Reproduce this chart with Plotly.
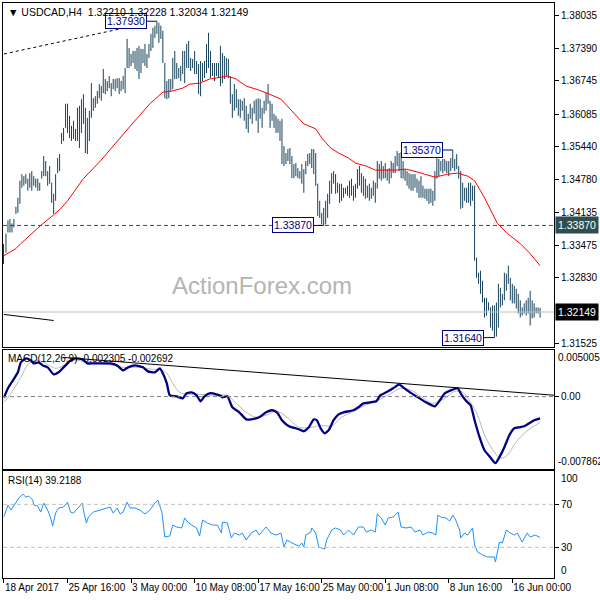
import plotly.graph_objects as go

# ---------------- data ----------------
highs = [
 1.3351,1.3371,1.3397,1.3400,1.3391,1.3400,1.3424,1.3442,1.3476,1.3489,
 1.3485,1.3489,1.3480,1.3491,1.3495,1.3485,1.3480,1.3480,1.3472,1.3495,
 1.3525,1.3515,1.3495,1.3505,1.3472,1.3450,1.3489,1.3521,1.3529,1.3571,
 1.3581,1.3629,1.3629,1.3605,1.3585,1.3595,1.3579,1.3621,1.3625,1.3638,
 1.3648,1.3621,1.3601,1.3615,1.3670,1.3640,1.3644,1.3654,1.3668,1.3664,
 1.3698,1.3678,1.3674,1.3684,1.3670,1.3678,1.3678,1.3680,1.3680,1.3674,
 1.3684,1.3700,1.3758,1.3740,1.3728,1.3734,1.3734,1.3740,1.3744,1.3738,
 1.3738,1.3748,1.3728,1.3748,1.3768,1.3780,1.3784,1.3793,1.3790,1.3784,
 1.3774,1.3710,1.3674,1.3678,1.3678,1.3720,1.3734,1.3710,1.3700,1.3704,
 1.3734,1.3734,1.3748,1.3754,1.3720,1.3718,1.3734,1.3714,1.3708,1.3714,
 1.3710,1.3714,1.3748,1.3770,1.3734,1.3710,1.3710,1.3710,1.3710,1.3744,
 1.3730,1.3724,1.3720,1.3718,1.3684,1.3648,1.3668,1.3658,1.3638,1.3638,
 1.3635,1.3640,1.3625,1.3609,1.3629,1.3621,1.3635,1.3638,1.3640,1.3638,
 1.3621,1.3635,1.3650,1.3668,1.3635,1.3629,1.3609,1.3605,1.3599,1.3595,
 1.3599,1.3545,1.3531,1.3539,1.3541,1.3525,1.3509,1.3511,1.3501,1.3495,
 1.3509,1.3499,1.3515,1.3529,1.3531,1.3539,1.3539,1.3531,1.3470,1.3436,
 1.3412,1.3422,1.3436,1.3450,1.3476,1.3491,1.3495,1.3489,1.3472,1.3470,
 1.3470,1.3462,1.3462,1.3466,1.3476,1.3480,1.3466,1.3470,1.3499,1.3505,
 1.3491,1.3485,1.3480,1.3466,1.3470,1.3462,1.3476,1.3472,1.3515,1.3509,
 1.3515,1.3505,1.3511,1.3499,1.3501,1.3515,1.3511,1.3525,1.3535,1.3531,
 1.3533,1.3515,1.3499,1.3495,1.3491,1.3489,1.3489,1.3489,1.3480,1.3476,
 1.3485,1.3466,1.3460,1.3460,1.3460,1.3460,1.3456,1.3495,1.3521,1.3519,
 1.3515,1.3519,1.3519,1.3515,1.3515,1.3521,1.3537,1.3519,1.3529,1.3505,
 1.3495,1.3472,1.3462,1.3462,1.3472,1.3472,1.3466,1.3466,1.3323,1.3293,
 1.3297,1.3277,1.3243,1.3243,1.3234,1.3224,1.3228,1.3228,1.3234,1.3271,
 1.3263,1.3251,1.3293,1.3291,1.3307,1.3283,1.3271,1.3267,1.3261,1.3251,
 1.3238,1.3224,1.3232,1.3238,1.3243,1.3257,1.3238,1.3232,1.3224,1.3224,
 1.32228]

lows = [
 1.3311,1.3333,1.3373,1.3373,1.3373,1.3383,1.3410,1.3412,1.3430,1.3462,
 1.3466,1.3470,1.3456,1.3462,1.3456,1.3466,1.3462,1.3456,1.3456,1.3480,
 1.3485,1.3485,1.3466,1.3470,1.3432,1.3410,1.3436,1.3491,1.3495,1.3549,
 1.3555,1.3581,1.3571,1.3561,1.3555,1.3559,1.3555,1.3555,1.3541,1.3571,
 1.3589,1.3531,1.3529,1.3555,1.3601,1.3615,1.3621,1.3629,1.3640,1.3635,
 1.3650,1.3648,1.3654,1.3660,1.3644,1.3658,1.3654,1.3660,1.3648,1.3654,
 1.3658,1.3650,1.3700,1.3700,1.3704,1.3710,1.3698,1.3694,1.3678,1.3690,
 1.3710,1.3704,1.3700,1.3720,1.3734,1.3740,1.3760,1.3768,1.3750,1.3758,
 1.3710,1.3640,1.3638,1.3640,1.3654,1.3658,1.3678,1.3678,1.3680,1.3674,
 1.3688,1.3670,1.3700,1.3700,1.3694,1.3700,1.3688,1.3688,1.3648,1.3644,
 1.3674,1.3680,1.3690,1.3700,1.3680,1.3684,1.3674,1.3684,1.3680,1.3664,
 1.3670,1.3678,1.3684,1.3680,1.3629,1.3601,1.3615,1.3621,1.3605,1.3601,
 1.3615,1.3595,1.3579,1.3571,1.3599,1.3589,1.3609,1.3595,1.3571,1.3599,
 1.3581,1.3609,1.3615,1.3629,1.3581,1.3595,1.3581,1.3571,1.3571,1.3555,
 1.3509,1.3505,1.3509,1.3515,1.3509,1.3481,1.3481,1.3485,1.3481,1.3480,
 1.3470,1.3452,1.3489,1.3505,1.3509,1.3501,1.3489,1.3466,1.3406,1.3402,
 1.3389,1.3387,1.3389,1.3402,1.3430,1.3450,1.3470,1.3450,1.3452,1.3432,
 1.3436,1.3442,1.3450,1.3446,1.3442,1.3446,1.3436,1.3442,1.3460,1.3466,
 1.3452,1.3446,1.3440,1.3442,1.3436,1.3440,1.3446,1.3432,1.3460,1.3480,
 1.3476,1.3480,1.3481,1.3476,1.3470,1.3481,1.3491,1.3491,1.3505,1.3495,
 1.3481,1.3480,1.3476,1.3466,1.3460,1.3456,1.3456,1.3462,1.3452,1.3442,
 1.3442,1.3442,1.3440,1.3436,1.3430,1.3432,1.3426,1.3436,1.3480,1.3485,
 1.3495,1.3491,1.3495,1.3491,1.3485,1.3495,1.3501,1.3495,1.3499,1.3480,
 1.3420,1.3422,1.3436,1.3432,1.3432,1.3426,1.3436,1.3317,1.3283,1.3271,
 1.3251,1.3234,1.3204,1.3208,1.3218,1.3184,1.3178,1.3164,1.3166,1.3184,
 1.3224,1.3228,1.3238,1.3257,1.3271,1.3238,1.3232,1.3232,1.3222,1.3212,
 1.3204,1.3208,1.3212,1.3208,1.3212,1.3188,1.3202,1.3204,1.3212,1.3212,
 1.32034]

last_close = 1.32149
ohlc_text = "1.32210 1.32228 1.32034 1.32149"

ma_idx = [0,6,8.5,18.5,25,28.5,32,40,48.5,57,65,73.5,80,84.5,90,93.5,98.5,103.5,112.5,117,
          122,127,132.5,139.5,145,151,157,160,164.5,168.5,173.5,177,182.5,187,197,202.5,208.5,217,223.5,228.5,
          233.5,237,242,248.5,253.5,260,265,270]
ma_val = [1.3327,1.3341,1.3351,1.3387,1.3408,1.3420,1.3436,1.3480,1.3515,1.3555,
          1.3591,1.3629,1.3652,1.3654,1.3660,1.3668,1.3670,1.3678,1.3684,1.3678,
          1.3664,1.3658,1.3650,1.3638,1.3615,1.3589,1.3579,1.3561,1.3541,1.3531,
          1.3521,1.3511,1.3505,1.3497,1.3497,1.3499,1.3493,1.3483,1.3489,1.3491,
          1.3485,1.3476,1.3442,1.3391,1.3371,1.3351,1.3331,1.3307]

macd_idx = [0,2,4.5,7,8.5,11,13.5,15,17.5,19.5,22,25,27.5,29.5,31,33.5,36,39.5,42,45,
            48.5,53.5,57,60,62.5,66,70,72.5,76,78.5,80,82,83.5,87,90,92,94.5,97,99,101,
            103.5,107,109.5,110,112.5,115,118.5,122,124.5,128.5,132,135,137.5,140,143.5,147,148.5,151,153.5,156,
            157.5,159.5,161.5,163.5,166,168.5,171,173.5,176,178.5,181,184.5,187.5,189.5,192.5,196,199,201,204.5,208.5,
            212.5,217,219.5,222,225,228.5,230,232.5,235,237,239.5,242,244.5,247.5,249.5,252,254.5,257,259.5,262,
            264.5,267,270]
macd_val = [-0.0001,0.0009,0.00176,0.00263,0.00371,0.00414,0.00392,0.00360,0.00371,0.00338,
            0.00317,0.00241,0.00263,0.00306,0.00338,0.00392,0.00414,0.00403,0.00360,0.00360,
            0.00360,0.00360,0.00338,0.00284,0.00317,0.00338,0.00317,0.00273,0.00263,0.00306,
            0.00252,0.00144,0.00014,0.00003,-0.00019,0.00036,0.00046,0.00014,-0.00051,0.00003,
            0.00036,0.00025,0.00003,-0.00008,0.00003,-0.00116,-0.00170,-0.00246,-0.00246,-0.00224,
            -0.00170,-0.00148,-0.00170,-0.00256,-0.00321,-0.00343,-0.00354,-0.00375,-0.00332,-0.00246,
            -0.00256,-0.00343,-0.00397,-0.00365,-0.00256,-0.00192,-0.00170,-0.00159,-0.00148,-0.00116,
            -0.00073,-0.00062,-0.00051,0.00014,0.00046,0.00090,0.00133,0.00100,0.00046,-0.00008,
            -0.00062,-0.00105,-0.00040,0.00036,0.00068,0.00090,0.00036,-0.00040,-0.00094,-0.00256,
            -0.00440,-0.00581,-0.00646,-0.00721,-0.00656,-0.00548,-0.00419,-0.00343,-0.00332,-0.00321,
            -0.00289,-0.00256,-0.00235]

signal_idx = [0,3.5,8.5,12.5,17,22,26,30,34.5,40,48.5,55,60,68.5,75,78.5,82,85,88.5,93.5,
              98.5,105,112,117,122,127,132,137,142,148.5,155,160,165,170,175,182,188.5,195,200,205,
              210,216,222,227,231,235,238.5,242.5,247,250,253.5,257.5,262,266,270]
signal_val = [-0.00062,0.00036,0.00209,0.00360,0.00392,0.00349,0.00306,0.00338,0.00392,0.00382,
              0.00360,0.00338,0.00317,0.00317,0.00295,0.00295,0.00252,0.00144,0.00046,0.00025,
              0.00025,0.00014,0.00014,-0.00073,-0.00170,-0.00224,-0.00202,-0.00159,-0.00213,-0.00332,
              -0.00332,-0.00310,-0.00321,-0.00224,-0.00170,-0.00094,-0.00040,0.00036,0.00090,0.00068,
              0.00003,-0.00073,-0.00019,0.00057,0.00046,-0.00062,-0.00202,-0.00440,-0.00602,-0.00667,
              -0.00635,-0.00505,-0.00397,-0.00332,-0.00278]

rsi_idx = [0,2,3.5,5,7.5,9.5,11,12.5,14.5,15,17,18.5,20,22,23.5,24.5,26,27.5,30,32,
           33.5,35,37.5,39.5,40,41.5,42.5,45,48.5,52,53.5,55,57,58.5,60,62,63.5,66,68.5,71,
           73.5,76,77.5,79.5,81,83.5,85,87,89.5,91,92.5,94.5,97,98.5,100,102.5,105,107.5,109.5,110,
           112.5,114.5,116,118.5,120,122,124.5,127,128.5,132,134.5,137,139.5,141,142.5,145,147.5,
           148.5,150,151,152,154.5,155,157,158.5,160,161.5,162.5,165,167,169.5,171,173.5,176,178.5,181,182.5,
           185,187,188,190,192,193.5,196,198.5,200,202.5,205,207,209.5,211,213.5,216,217.5,218.5,220,222.5,
           224.5,226,227.5,229.5,230,232,233.5,236,237,238.5,241,243.5,247,247.5,249.5,251,253,255,257,258.5,
           261,263.5,265,267.5,270]
rsi_val = [58.5,69.3,64.7,69.3,75.9,79.6,76.7,77.7,74.0,69.3,68.4,62.8,71.2,64.7,57.3,49.8,61.9,66.6,67.5,72.1,
           62.8,61.9,66.6,71.2,64.7,52.6,58.2,62.8,64.7,66.6,67.5,61.9,66.6,61.0,62.8,72.1,66.6,66.6,64.7,61.0,
           64.7,71.2,74.0,62.8,39.6,40.5,50.7,48.9,48.0,57.3,53.5,50.7,48.0,40.5,55.4,52.6,50.7,50.7,43.3,53.5,
           52.6,38.7,43.3,41.4,43.3,36.8,43.3,46.1,41.4,48.9,43.3,41.4,43.3,30.3,36.8,34.0,32.1,
           31.2,34.0,30.3,41.4,44.2,48.0,43.3,30.3,29.3,28.4,36.8,46.1,48.0,46.1,41.4,46.1,41.4,48.9,48.9,44.2,
           46.1,44.2,61.0,57.3,50.7,57.3,58.2,62.8,48.9,48.0,48.9,44.2,46.1,41.4,44.2,43.3,41.4,60.0,58.2,57.3,
           54.5,60.0,55.4,46.1,38.7,43.3,41.4,48.0,32.1,25.6,22.8,21.0,21.0,16.3,34.9,34.0,46.1,43.3,41.4,43.3,
           34.9,43.3,39.6,41.4,39.2]

# trend lines drawn on the chart
top_trend_idx = [0, 61]
top_trend_val = [1.3728, 1.3780]
low_trend_idx = [0, 25]
low_trend_val = [1.3210, 1.3198]
macd_trend_idx = [29.5, 277.5]
macd_trend_val = [0.00425, 0.00014]
support_level = 1.33870

# swing labels: (bar index, kind)
swing_idx = [77, 161, 226, 247]
swing_kind = ["high", "low", "high", "low"]

price_ticks = [1.38035, 1.37390, 1.36745, 1.36085, 1.35440, 1.34780, 1.34135, 1.33475, 1.32830, 1.31525]
x_tick_idx = [0, 32, 64, 96, 128, 160, 192, 224, 256]
x_tick_text = ["18 Apr 2017", "25 Apr 16:00", "3 May 00:00", "10 May 08:00", "17 May 16:00",
               "25 May 00:00", "1 Jun 08:00", "8 Jun 16:00", "16 Jun 00:00"]
macd_label = "MACD(12,26,9) -0.002305 -0.002692"
rsi_label = "RSI(14) 39.2188"
macd_max, macd_min = 0.005005, -0.007862

# ---------------- figure ----------------
FONT = "Liberation Sans, Arial, sans-serif"
BAR_COLOR = "#17425a"
NAVY = "#000080"

# each price bar is a vertical high-low segment at its bar index
bar_x, bar_y = [], []
for i, (h, l) in enumerate(zip(highs, lows)):
    bar_x += [i, i, None]
    bar_y += [l, h, None]

fig = go.Figure()
fig.add_trace(go.Scatter(x=bar_x, y=bar_y, mode="lines", line=dict(color=BAR_COLOR, width=1),
                         xaxis="x", yaxis="y", showlegend=False, hoverinfo="skip"))
fig.add_trace(go.Scatter(x=ma_idx, y=ma_val, mode="lines", line=dict(color="#ff0000", width=1),
                         xaxis="x", yaxis="y", showlegend=False))
fig.add_trace(go.Scatter(x=top_trend_idx, y=top_trend_val, mode="lines",
                         line=dict(color="black", width=1, dash="3px,3px"),
                         xaxis="x", yaxis="y", showlegend=False))
fig.add_trace(go.Scatter(x=low_trend_idx, y=low_trend_val, mode="lines",
                         line=dict(color="black", width=1), xaxis="x", yaxis="y", showlegend=False))

# MACD panel
fig.add_trace(go.Scatter(x=signal_idx, y=signal_val, mode="lines", line=dict(color="#b8b8b8", width=1, shape="spline"),
                         xaxis="x2", yaxis="y2", showlegend=False))
fig.add_trace(go.Scatter(x=macd_idx, y=macd_val, mode="lines", line=dict(color=NAVY, width=2.3, shape="spline", smoothing=0.5),
                         xaxis="x2", yaxis="y2", showlegend=False))
fig.add_trace(go.Scatter(x=macd_trend_idx, y=macd_trend_val, mode="lines", line=dict(color="black", width=1),
                         xaxis="x2", yaxis="y2", showlegend=False))

# RSI panel
fig.add_trace(go.Scatter(x=rsi_idx, y=rsi_val, mode="lines", line=dict(color="#1e90ff", width=1),
                         xaxis="x3", yaxis="y3", showlegend=False))

shapes = [
    dict(type="line", xref="x domain", yref="y", x0=0, x1=1, y0=support_level, y1=support_level,
         line=dict(color="#2f4f4f", width=1, dash="4px,3px")),
    dict(type="line", xref="x domain", yref="y", x0=0, x1=1, y0=last_close, y1=last_close,
         line=dict(color="#c0c0c0", width=1)),
    dict(type="line", xref="x2 domain", yref="y2", x0=0, x1=1, y0=0, y1=0,
         line=dict(color="#808080", width=1, dash="4px,3px")),
    dict(type="line", xref="x3 domain", yref="y3", x0=0, x1=1, y0=70, y1=70,
         line=dict(color="#c0c0c0", width=1, dash="4px,3px")),
    dict(type="line", xref="x3 domain", yref="y3", x0=0, x1=1, y0=30, y1=30,
         line=dict(color="#c0c0c0", width=1, dash="4px,3px")),
]

annotations = []
for i, kind in zip(swing_idx, swing_kind):
    val = highs[i] if kind == "high" else lows[i]
    annotations.append(dict(x=i, y=val, xref="x", yref="y", text="%.5f" % val,
                            showarrow=True, arrowhead=0, arrowwidth=1, arrowcolor=NAVY,
                            ax=-31, ay=0, font=dict(family=FONT, size=10.5, color=NAVY),
                            bgcolor="white", bordercolor=NAVY, borderwidth=1, borderpad=1))
annotations.append(dict(x=1, y=support_level, xref="paper", yref="y", xanchor="left", xshift=1,
                        text="%.5f" % support_level, showarrow=False, bgcolor="#2f4f4f",
                        font=dict(family=FONT, size=10.5, color="white"), borderpad=2))
annotations.append(dict(x=1, y=last_close, xref="paper", yref="y", xanchor="left", xshift=1,
                        text="%.5f" % last_close, showarrow=False, bgcolor="black",
                        font=dict(family=FONT, size=10.5, color="white"), borderpad=2))
annotations.append(dict(x=0, y=1, xref="paper", yref="paper", xanchor="left", yanchor="top",
                        xshift=3, yshift=-1, showarrow=False,
                        text="▼ USDCAD,H4  " + ohlc_text, font=dict(family=FONT, size=10.5, color="black")))
annotations.append(dict(x=0.47, y=0.509, xref="paper", yref="paper", showarrow=False,
                        text="ActionForex.com", font=dict(family=FONT, size=24, color="#b4b4b4")))
annotations.append(dict(x=0, y=macd_max, xref="paper", yref="y2", xanchor="left", yanchor="top",
                        xshift=3, yshift=-1, showarrow=False, text=macd_label,
                        font=dict(family=FONT, size=10, color="black")))
annotations.append(dict(x=0, y=100.9, xref="paper", yref="y3", xanchor="left", yanchor="top",
                        xshift=3, yshift=-2, showarrow=False, text=rsi_label,
                        font=dict(family=FONT, size=10, color="black")))
for val, txt, anchor in [(macd_max, "%.6f" % macd_max, "top"), (macd_min, "%.6f" % macd_min, "bottom")]:
    annotations.append(dict(x=1, y=val, xref="paper", yref="y2", xanchor="left", yanchor=anchor,
                            xshift=2, showarrow=False, text=txt, font=dict(family=FONT, size=10, color="black")))
for val, txt, anchor in [(100.9, "100", "top"), (1.4, "0", "bottom")]:
    annotations.append(dict(x=1, y=val, xref="paper", yref="y3", xanchor="left", yanchor=anchor,
                            xshift=5, showarrow=False, text=txt, font=dict(family=FONT, size=10, color="black")))

axis_common = dict(showline=True, mirror=True, linecolor="black", linewidth=1, showgrid=False, zeroline=False)
x_range = [-0.5, 277]

fig.update_layout(
    width=600, height=600,
    margin=dict(l=3, r=42, t=2, b=22),
    paper_bgcolor="white", plot_bgcolor="white",
    font=dict(family=FONT, size=10, color="black"),
    showlegend=False,
    xaxis=dict(domain=[0, 1], anchor="y", range=x_range, showticklabels=False, ticks="", **axis_common),
    yaxis=dict(domain=[0.40104, 1], anchor="x", side="right", range=[1.31445, 1.38293],
               tickvals=price_ticks, ticktext=["%.5f" % v for v in price_ticks],
               ticks="outside", ticklen=4, tickcolor="black", **axis_common),
    xaxis2=dict(domain=[0, 1], anchor="y2", range=x_range, matches="x", showticklabels=False, ticks="", **axis_common),
    yaxis2=dict(domain=[0.18924, 0.39583], anchor="x2", side="right", range=[macd_min, macd_max],
                tickvals=[0], ticktext=["0.00"], ticks="outside", ticklen=4, tickcolor="black", **axis_common),
    xaxis3=dict(domain=[0, 1], anchor="y3", range=x_range, matches="x",
                tickvals=x_tick_idx, ticktext=x_tick_text, ticks="outside", ticklen=4, tickcolor="black",
                ticklabelposition="outside right", tickangle=0, **axis_common),
    yaxis3=dict(domain=[0, 0.18576], anchor="x3", side="right", range=[1.4, 100.9],
                tickvals=[70, 30], ticktext=["70", "30"], ticks="outside", ticklen=4, tickcolor="black", **axis_common),
    shapes=shapes, annotations=annotations,
)

post_js = (
    "document.body.style.margin='0';"
    "var p=document.querySelector('.subplot.xy .scatterlayer .trace path.js-line');"
    "if(p){p.style.shapeRendering='crispEdges';}"
)
fig.write_html("out.html", config={"displayModeBar": False}, post_script=post_js)
